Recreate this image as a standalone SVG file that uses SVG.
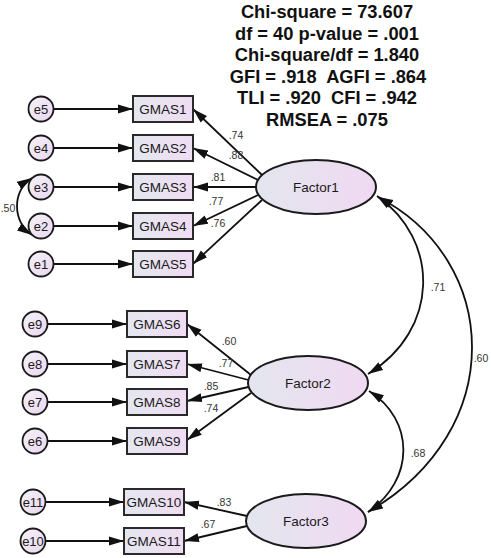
<svg xmlns="http://www.w3.org/2000/svg" width="491" height="558" viewBox="0 0 491 558">
<defs>
<linearGradient id="gBox" x1="0" y1="0" x2="1" y2="0"><stop offset="0" stop-color="#e4e7ef"/><stop offset="1" stop-color="#f0dcf3"/></linearGradient>
<linearGradient id="gEll" x1="0" y1="0" x2="1" y2="0"><stop offset="0" stop-color="#e3e6ee"/><stop offset="1" stop-color="#f0d9f2"/></linearGradient>
<linearGradient id="gCir" x1="0" y1="0" x2="1" y2="1"><stop offset="0" stop-color="#f4f2f8"/><stop offset="1" stop-color="#ebd6f0"/></linearGradient>
<marker id="ah" markerUnits="userSpaceOnUse" markerWidth="16" markerHeight="10" refX="15" refY="5" orient="auto-start-reverse" viewBox="0 0 16 10"><path d="M0,0.5 L15,5 L0,9.5 z" fill="#111"/></marker>
</defs>
<style>
.box{fill:url(#gBox);stroke:#2a2a2a;stroke-width:2}
.ell{fill:url(#gEll);stroke:#1a1a1a;stroke-width:2}
.cir{fill:url(#gCir);stroke:#1a1a1a;stroke-width:1.8}
.lbl{font-family:"Liberation Sans",Arial,sans-serif;font-size:13.5px;fill:#1a1a1a;text-anchor:middle}
.elbl{font-family:"Liberation Sans",Arial,sans-serif;font-size:13px;fill:#1a1a1a;text-anchor:middle}
.coef{font-family:"Liberation Sans",Arial,sans-serif;font-size:10.5px;fill:#333;text-anchor:middle}
.stat{font-family:"Liberation Sans",Arial,sans-serif;font-size:18.3px;font-weight:bold;fill:#111;text-anchor:middle;white-space:pre}
.c{fill:none;stroke:#111;stroke-width:1.8;marker-end:url(#ah)}
.cv{fill:none;stroke:#111;stroke-width:1.8;marker-end:url(#ah);marker-start:url(#ah)}
</style>

<g id="stats">
<text class="stat" x="327" y="18">Chi-square = 73.607</text>
<text class="stat" x="327" y="39.5">df = 40 p-value = .001</text>
<text class="stat" x="327" y="61">Chi-square/df = 1.840</text>
<text class="stat" x="328" y="82.5">GFI = .918  AGFI = .864</text>
<text class="stat" x="327" y="104">TLI = .920  CFI = .942</text>
<text class="stat" x="327" y="125.5">RMSEA = .075</text>
</g>

<g id="connectors">
<!-- errors to indicators -->
<line class="c" x1="53.5" y1="109" x2="133" y2="109"/>
<line class="c" x1="53.5" y1="148" x2="133" y2="148"/>
<line class="c" x1="53.5" y1="187" x2="133" y2="187"/>
<line class="c" x1="53.5" y1="226" x2="133" y2="226"/>
<line class="c" x1="53.5" y1="264" x2="133" y2="264"/>
<line class="c" x1="47.5" y1="324" x2="127" y2="324"/>
<line class="c" x1="47.5" y1="364" x2="127" y2="364"/>
<line class="c" x1="47.5" y1="402" x2="127" y2="402"/>
<line class="c" x1="47.5" y1="441" x2="127" y2="441"/>
<line class="c" x1="45.5" y1="502" x2="124" y2="502"/>
<line class="c" x1="45.5" y1="541" x2="124" y2="541"/>
<!-- Factor1 loadings -->
<line class="c" x1="262" y1="175" x2="193" y2="109"/>
<line class="c" x1="258" y1="180" x2="193" y2="148"/>
<line class="c" x1="256" y1="187" x2="193" y2="187"/>
<line class="c" x1="258" y1="195" x2="193" y2="226"/>
<line class="c" x1="262" y1="200" x2="193" y2="264"/>
<!-- Factor2 loadings -->
<line class="c" x1="251" y1="375" x2="187" y2="324"/>
<line class="c" x1="248.5" y1="380" x2="187" y2="364"/>
<line class="c" x1="248.5" y1="387" x2="187" y2="401"/>
<line class="c" x1="251" y1="393" x2="187" y2="440"/>
<!-- Factor3 loadings -->
<line class="c" x1="247" y1="516" x2="184" y2="502"/>
<line class="c" x1="247" y1="526" x2="184" y2="541"/>
<!-- covariances -->
<path class="cv" d="M32,178 C12,190 12,222 32,235"/>
<path class="cv" d="M377,196 C440,240 440,330 368,374"/>
<path class="cv" d="M378,197 C500,260 510,430 368,512"/>
<path class="cv" d="M369,391 C415,420 415,480 368,512"/>
</g>

<g id="coefficients">
<text class="coef" x="236" y="139">.74</text>
<text class="coef" x="236" y="159">.88</text>
<text class="coef" x="218" y="181">.81</text>
<text class="coef" x="216" y="205">.77</text>
<text class="coef" x="218" y="227">.76</text>
<text class="coef" x="8" y="212">.50</text>
<text class="coef" x="229" y="345">.60</text>
<text class="coef" x="226" y="367">.77</text>
<text class="coef" x="211" y="390">.85</text>
<text class="coef" x="211" y="412">.74</text>
<text class="coef" x="224" y="506">.83</text>
<text class="coef" x="208" y="528">.67</text>
<text class="coef" x="438" y="291">.71</text>
<text class="coef" x="481" y="362">.60</text>
<text class="coef" x="418" y="457">.68</text>
</g>

<g id="e5"><circle class="cir" cx="41" cy="109" r="12.5"/><text class="elbl" x="41" y="113.5">e5</text></g>
<g id="e4"><circle class="cir" cx="41" cy="148" r="12.5"/><text class="elbl" x="41" y="152.5">e4</text></g>
<g id="e3"><circle class="cir" cx="41" cy="187" r="12.5"/><text class="elbl" x="41" y="191.5">e3</text></g>
<g id="e2"><circle class="cir" cx="41" cy="226" r="12.5"/><text class="elbl" x="41" y="230.5">e2</text></g>
<g id="e1"><circle class="cir" cx="41" cy="264" r="12.5"/><text class="elbl" x="41" y="268.5">e1</text></g>
<g id="e9"><circle class="cir" cx="35" cy="324" r="12.5"/><text class="elbl" x="35" y="328.5">e9</text></g>
<g id="e8"><circle class="cir" cx="35" cy="364" r="12.5"/><text class="elbl" x="35" y="368.5">e8</text></g>
<g id="e7"><circle class="cir" cx="35" cy="402" r="12.5"/><text class="elbl" x="35" y="406.5">e7</text></g>
<g id="e6"><circle class="cir" cx="35" cy="441" r="12.5"/><text class="elbl" x="35" y="445.5">e6</text></g>
<g id="e11"><circle class="cir" cx="33" cy="502" r="12.5"/><text class="elbl" x="33" y="506.5">e11</text></g>
<g id="e10"><circle class="cir" cx="33" cy="541" r="12.5"/><text class="elbl" x="33" y="545.5">e10</text></g>

<g id="GMAS1"><rect class="box" x="133" y="96" width="60" height="26"/><text class="lbl" x="163" y="114">GMAS1</text></g>
<g id="GMAS2"><rect class="box" x="133" y="135" width="60" height="26"/><text class="lbl" x="163" y="153">GMAS2</text></g>
<g id="GMAS3"><rect class="box" x="133" y="174" width="60" height="26"/><text class="lbl" x="163" y="192">GMAS3</text></g>
<g id="GMAS4"><rect class="box" x="133" y="213" width="60" height="26"/><text class="lbl" x="163" y="231">GMAS4</text></g>
<g id="GMAS5"><rect class="box" x="133" y="251" width="60" height="26"/><text class="lbl" x="163" y="269">GMAS5</text></g>
<g id="GMAS6"><rect class="box" x="127" y="311" width="60" height="26"/><text class="lbl" x="157" y="329">GMAS6</text></g>
<g id="GMAS7"><rect class="box" x="127" y="351" width="60" height="26"/><text class="lbl" x="157" y="369">GMAS7</text></g>
<g id="GMAS8"><rect class="box" x="127" y="389" width="60" height="26"/><text class="lbl" x="157" y="407">GMAS8</text></g>
<g id="GMAS9"><rect class="box" x="127" y="428" width="60" height="26"/><text class="lbl" x="157" y="446">GMAS9</text></g>
<g id="GMAS10"><rect class="box" x="124" y="489" width="60" height="26"/><text class="lbl" x="154" y="507">GMAS10</text></g>
<g id="GMAS11"><rect class="box" x="124" y="528" width="60" height="26"/><text class="lbl" x="154" y="546">GMAS11</text></g>

<g id="Factor1"><ellipse class="ell" cx="316" cy="187" rx="60" ry="27"/><text class="lbl" x="316" y="192">Factor1</text></g>
<g id="Factor2"><ellipse class="ell" cx="308" cy="383" rx="60" ry="27"/><text class="lbl" x="308" y="388">Factor2</text></g>
<g id="Factor3"><ellipse class="ell" cx="306" cy="521" rx="60" ry="27"/><text class="lbl" x="306" y="526">Factor3</text></g>
</svg>
